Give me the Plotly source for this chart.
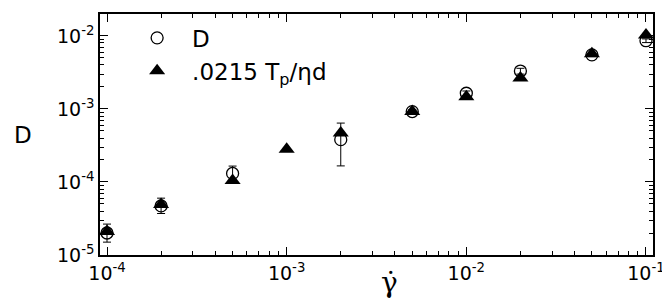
import plotly.graph_objects as go

# --- data ---
gamma_D = [1e-4, 2e-4, 5e-4, 2e-3, 5e-3, 1e-2, 2e-2, 5e-2, 1e-1]
D_vals = [2.0e-5, 4.7e-5, 1.31e-4, 3.8e-4, 9.2e-4, 1.64e-3, 3.3e-3, 5.5e-3, 8.6e-3]
D_err_plus = [0.65e-5, 1.3e-5, 0.34e-4, 2.6e-4, 0.6e-4, 1.2e-4, 0.3e-3, 0.3e-3, 0.5e-3]
D_err_minus = [0.5e-5, 1.0e-5, 0.26e-4, 2.14e-4, 0.6e-4, 1.2e-4, 0.3e-3, 0.3e-3, 0.5e-3]

gamma_T = [1e-4, 2e-4, 5e-4, 1e-3, 2e-3, 5e-3, 1e-2, 2e-2, 5e-2, 1e-1]
T_vals = [2.1e-5, 4.9e-5, 1.05e-4, 2.8e-4, 4.7e-4, 9.2e-4, 1.47e-3, 2.65e-3, 5.7e-3, 1.03e-2]

x_tick_vals = [1e-4, 1e-3, 1e-2, 1e-1]
x_tick_text = ["10<sup>-4</sup>", "10<sup>-3</sup>", "10<sup>-2</sup>", "10<sup>-1</sup>"]
y_tick_vals = [1e-5, 1e-4, 1e-3, 1e-2]
y_tick_text = ["10<sup>-5</sup>", "10<sup>-4</sup>", "10<sup>-3</sup>", "10<sup>-2</sup>"]

SANS = "DejaVu Sans, Arial, sans-serif"

fig = go.Figure()
fig.add_trace(go.Scatter(
    x=gamma_D, y=D_vals, mode="markers", name="D",
    marker=dict(symbol="circle-open", size=12, color="black", line=dict(width=1.3, color="black")),
    error_y=dict(type="data", array=D_err_plus, arrayminus=D_err_minus,
                 color="black", thickness=1, width=4, symmetric=False),
))
fig.add_trace(go.Scatter(
    x=gamma_T, y=T_vals, mode="markers", name=".0215 T<sub>p</sub>/ηd",
    marker=dict(symbol="triangle-up", size=14, color="black"),
))

axis_common = dict(
    type="log", showgrid=False, zeroline=False, showline=True, linecolor="black", linewidth=1.5,
    mirror="allticks", ticks="inside", ticklen=8, tickwidth=1.2, tickcolor="black",
    automargin=False, ticklabeloverflow="allow",
    tickfont=dict(family=SANS, size=19, color="black"),
    minor=dict(ticks="inside", ticklen=4, tickwidth=1, tickcolor="black", dtick="D1", showgrid=False),
)

fig.update_xaxes(**axis_common, range=[-4.039, -0.961], tickvals=x_tick_vals, ticktext=x_tick_text)
fig.update_yaxes(**axis_common, range=[-5, -1.70], tickvals=y_tick_vals, ticktext=y_tick_text)

fig.add_annotation(text="D", xref="paper", yref="paper", x=-0.139, y=0.5, xanchor="center", yanchor="middle",
                   showarrow=False, font=dict(family=SANS, size=23, color="black"))
fig.add_annotation(text="γ̇", xref="paper", yref="paper", x=0.523, y=-0.115, xanchor="center", yanchor="middle",
                   showarrow=False, font=dict(family="DejaVu Serif, serif", size=28, color="black"))

fig.update_layout(
    width=662, height=301,
    margin=dict(l=100, r=9, t=14, b=46),
    plot_bgcolor="white", paper_bgcolor="white",
    showlegend=True,
    legend=dict(x=0.04, y=0.99, xanchor="left", yanchor="top", bgcolor="rgba(0,0,0,0)",
                font=dict(family=SANS, size=23, color="black"),
                itemwidth=60, tracegroupgap=0),
)

fig.write_html("out.html", post_script="document.body.style.margin='0';",
               config={"displayModeBar": False})
